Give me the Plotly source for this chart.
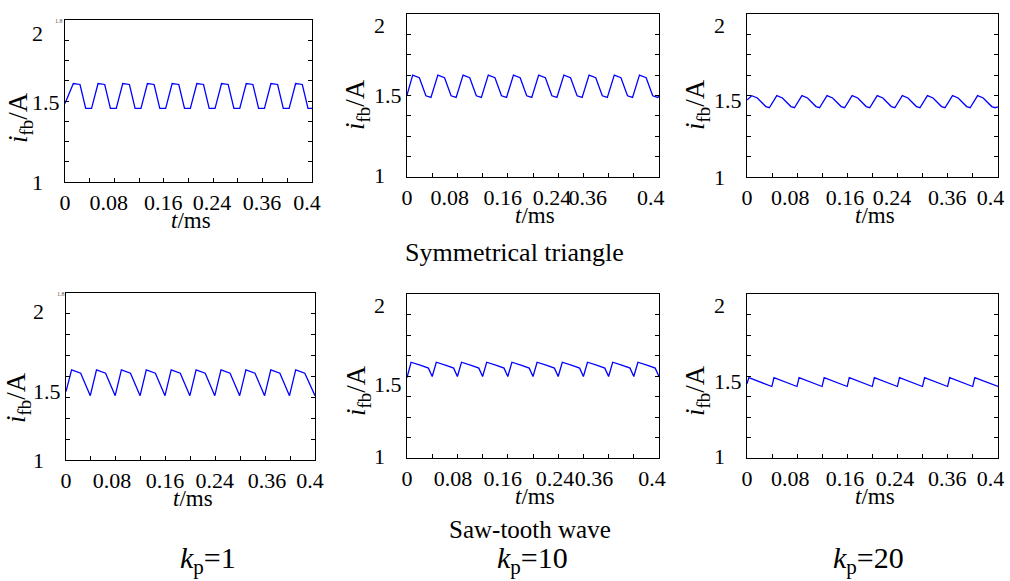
import plotly.graph_objects as go

# ---------------- data ----------------
# Symmetrical triangle, kp = 1
t_tri_1 = [0, 0.0135, 0.0243, 0.0335, 0.043, 0.0535, 0.0643, 0.0735, 0.083,
           0.0935, 0.1043, 0.1135, 0.123, 0.1335, 0.1443, 0.1535, 0.163,
           0.1735, 0.1843, 0.1935, 0.203, 0.2135, 0.2243, 0.2335, 0.243,
           0.2535, 0.2643, 0.2735, 0.283, 0.2935, 0.3043, 0.3135, 0.323,
           0.3335, 0.3443, 0.3535, 0.363, 0.3735, 0.3843, 0.3935, 0.400]
i_tri_1 = [1.485, 1.608, 1.602, 1.455, 1.455, 1.608, 1.602, 1.455, 1.455,
           1.608, 1.602, 1.455, 1.455, 1.608, 1.602, 1.455, 1.455,
           1.608, 1.602, 1.455, 1.455, 1.608, 1.602, 1.455, 1.455,
           1.608, 1.602, 1.455, 1.455, 1.608, 1.602, 1.455, 1.455,
           1.608, 1.602, 1.455, 1.455, 1.608, 1.602, 1.455, 1.455]

# Symmetrical triangle, kp = 10
t_tri_10 = [0, 0.009, 0.0196, 0.030, 0.038, 0.049, 0.0596, 0.070, 0.078,
            0.089, 0.0996, 0.110, 0.118, 0.129, 0.1396, 0.150, 0.158,
            0.169, 0.1796, 0.190, 0.198, 0.209, 0.2196, 0.230, 0.238,
            0.249, 0.2596, 0.270, 0.278, 0.289, 0.2996, 0.310, 0.318,
            0.329, 0.3396, 0.350, 0.358, 0.369, 0.3796, 0.390, 0.398, 0.400]
i_tri_10 = [1.502, 1.625, 1.609, 1.498, 1.488, 1.625, 1.609, 1.498, 1.488,
            1.625, 1.609, 1.498, 1.488, 1.625, 1.609, 1.498, 1.488,
            1.625, 1.609, 1.498, 1.488, 1.625, 1.609, 1.498, 1.488,
            1.625, 1.609, 1.498, 1.488, 1.625, 1.609, 1.498, 1.488,
            1.625, 1.609, 1.498, 1.488, 1.625, 1.609, 1.498, 1.488, 1.495]

# Symmetrical triangle, kp = 20
t_tri_20 = [0, 0.0075, 0.0165, 0.030, 0.0356, 0.0475, 0.0565, 0.070, 0.0756,
            0.0875, 0.0965, 0.110, 0.1156, 0.1275, 0.1365, 0.150, 0.1556,
            0.1675, 0.1765, 0.190, 0.1956, 0.2075, 0.2165, 0.230, 0.2356,
            0.2475, 0.2565, 0.270, 0.2756, 0.2875, 0.2965, 0.310, 0.3156,
            0.3275, 0.3365, 0.350, 0.3556, 0.3675, 0.3765, 0.390, 0.3956, 0.400]
i_tri_20 = [1.472, 1.499, 1.485, 1.432, 1.425, 1.499, 1.485, 1.432, 1.425,
            1.499, 1.485, 1.432, 1.425, 1.499, 1.485, 1.432, 1.425,
            1.499, 1.485, 1.432, 1.425, 1.499, 1.485, 1.432, 1.425,
            1.499, 1.485, 1.432, 1.425, 1.499, 1.485, 1.432, 1.425,
            1.499, 1.485, 1.432, 1.425, 1.499, 1.485, 1.432, 1.425, 1.430]

# Saw-tooth wave, kp = 1
t_saw_1 = [0, 0.009, 0.0236, 0.039, 0.049, 0.0636, 0.079, 0.089, 0.1036, 0.119,
           0.129, 0.1436, 0.159, 0.169, 0.1836, 0.199, 0.209, 0.2236, 0.239,
           0.249, 0.2636, 0.279, 0.289, 0.3036, 0.319, 0.329, 0.3436, 0.359,
           0.369, 0.3836, 0.400]
i_saw_1 = [1.41, 1.54, 1.52, 1.385, 1.54, 1.52, 1.385, 1.54, 1.52, 1.385,
           1.54, 1.52, 1.385, 1.54, 1.52, 1.385, 1.54, 1.52, 1.385,
           1.54, 1.52, 1.385, 1.54, 1.52, 1.385, 1.54, 1.52, 1.385,
           1.54, 1.52, 1.385]

# Saw-tooth wave, kp = 10
t_saw_10 = [0, 0.0065, 0.022, 0.034, 0.040, 0.0465, 0.062, 0.074, 0.080,
            0.0865, 0.102, 0.114, 0.120, 0.1265, 0.142, 0.154, 0.160,
            0.1665, 0.182, 0.194, 0.200, 0.2065, 0.222, 0.234, 0.240,
            0.2465, 0.262, 0.274, 0.280, 0.2865, 0.302, 0.314, 0.320,
            0.3265, 0.342, 0.354, 0.360, 0.3665, 0.382, 0.394, 0.400]
i_saw_10 = [1.49, 1.584, 1.565, 1.548, 1.497, 1.584, 1.565, 1.548, 1.497,
            1.584, 1.565, 1.548, 1.497, 1.584, 1.565, 1.548, 1.497,
            1.584, 1.565, 1.548, 1.497, 1.584, 1.565, 1.548, 1.497,
            1.584, 1.565, 1.548, 1.497, 1.584, 1.565, 1.548, 1.497,
            1.584, 1.565, 1.548, 1.497, 1.584, 1.565, 1.548, 1.497]

# Saw-tooth wave, kp = 20
t_saw_20 = [0, 0.003, 0.0397, 0.043, 0.0797, 0.083, 0.1197, 0.123, 0.1597,
            0.163, 0.1997, 0.203, 0.2397, 0.243, 0.2797, 0.283, 0.3197,
            0.323, 0.3597, 0.363, 0.400]
i_saw_20 = [1.452, 1.49, 1.436, 1.49, 1.436, 1.49, 1.436, 1.49, 1.436,
            1.49, 1.436, 1.49, 1.436, 1.49, 1.436, 1.49, 1.436,
            1.49, 1.436, 1.49, 1.436]

# tick labels
x_ticktext = ["0", "0.08", "0.16", "0.24", "0.36", "0.4"]
y_ticktext = ["1\u00a0\u00a0\u00a0", "1.5", "2\u00a0\u00a0\u00a0"]
x_minor_ticks = [0.04, 0.08, 0.12, 0.16, 0.20, 0.24, 0.28, 0.32, 0.36]
y_minor_ticks = [1.125, 1.25, 1.375, 1.5, 1.625, 1.75, 1.875]

row_captions = ["Symmetrical triangle", "Saw-tooth wave"]
kp_values = ["1", "10", "20"]
remnant_label = "1.8"

# ---------------- layout helpers ----------------
W, H = 1010, 581
FONT = "Liberation Serif"

# plot-frame pixel boxes (left, right, top, bottom)
boxes = [(65, 312, 20, 182), (407, 659, 14, 177), (747, 998, 14, 177),
         (66, 315, 293, 460), (407, 659, 294, 458), (747, 998, 294, 458)]
# positions of the x tick labels in each panel (as drawn)
x_label_pos = [[0, 0.071, 0.159, 0.238, 0.319, 0.392],
               [0, 0.068, 0.152, 0.230, 0.287, 0.387],
               [0, 0.069, 0.156, 0.231, 0.319, 0.388],
               [0, 0.074, 0.159, 0.239, 0.323, 0.392],
               [0, 0.073, 0.152, 0.235, 0.297, 0.389],
               [0, 0.069, 0.156, 0.236, 0.319, 0.388]]
y_label_pos = [[1.0, 1.495, 1.92], [1.01, 1.50, 1.93], [1.0, 1.47, 1.93],
               [1.0, 1.41, 1.89], [1.01, 1.45, 1.93], [1.01, 1.47, 1.93]]
ytitle_pos = [(20, 118), (357, 105), (697, 105), (18, 398), (358, 391), (697, 391)]

series = [(t_tri_1, i_tri_1), (t_tri_10, i_tri_10), (t_tri_20, i_tri_20),
          (t_saw_1, i_saw_1), (t_saw_10, i_saw_10), (t_saw_20, i_saw_20)]

fig = go.Figure()
annotations = []
layout = dict(template="none", width=W, height=H, autosize=False,
              margin=dict(l=0, r=0, t=0, b=0, autoexpand=False),
              paper_bgcolor="white", plot_bgcolor="white",
              showlegend=False, font=dict(family=FONT, color="black"))

for k, ((t, i), (l, r, tp, bt)) in enumerate(zip(series, boxes)):
    n = "" if k == 0 else str(k + 1)
    fig.add_trace(go.Scatter(x=t, y=i, mode="lines",
                             line=dict(color="#0000ff", width=1.3),
                             xaxis="x" + n, yaxis="y" + n,
                             hoverinfo="skip"))
    layout["xaxis" + n] = dict(
        domain=[l / W, r / W], range=[0, 0.4], anchor="y" + n,
        automargin=False,
        showline=True, linecolor="black", linewidth=1.4, mirror=True,
        showgrid=False, zeroline=False,
        tickmode="array", tickvals=x_label_pos[k], ticktext=x_ticktext,
        ticks="", ticklabelstandoff=0, tickangle=0,
        tickfont=dict(family=FONT, size=22, color="black"),
        minor=dict(tickmode="array", tickvals=x_minor_ticks, ticks="inside",
                   ticklen=4, tickwidth=1, tickcolor="black", showgrid=False))
    layout["yaxis" + n] = dict(
        domain=[1 - bt / H, 1 - tp / H], range=[1, 2], anchor="x" + n,
        automargin=False,
        showline=True, linecolor="black", linewidth=1.4, mirror="ticks",
        showgrid=False, zeroline=False,
        tickmode="array", tickvals=y_label_pos[k], ticktext=y_ticktext,
        ticks="", ticklabelstandoff=0, tickangle=0,
        tickfont=dict(family=FONT, size=22, color="black"),
        minor=dict(tickmode="array", tickvals=y_minor_ticks, ticks="inside",
                   ticklen=4, tickwidth=1, tickcolor="black", showgrid=False))
    # axis titles
    xt = (l + r) / 2 + 2
    yt = bt + 38
    annotations.append(dict(text="<i>t</i>/ms", x=xt / W, y=1 - yt / H,
                            xref="paper", yref="paper", showarrow=False,
                            xanchor="center", yanchor="middle",
                            font=dict(family=FONT, size=23, color="black")))
    px, py = ytitle_pos[k]
    annotations.append(dict(text="<i>i</i><sub>fb</sub>/A", x=px / W, y=1 - py / H,
                            xref="paper", yref="paper", showarrow=False,
                            textangle=-90, xanchor="center", yanchor="middle",
                            font=dict(family=FONT, size=27, color="black")))

# tiny leftover label at the top-left of the kp=1 panels
for (rx, ry) in [(59, 21), (61, 294)]:
    annotations.append(dict(text=remnant_label, x=rx / W, y=1 - ry / H,
                            xref="paper", yref="paper", showarrow=False,
                            xanchor="center", yanchor="middle",
                            font=dict(family=FONT, size=6, color="#555555")))

# row captions
for cap, (cx, cy), fs in zip(row_captions, [(514, 252), (530, 529)], [26, 25]):
    annotations.append(dict(text=cap, x=cx / W, y=1 - cy / H, xref="paper", yref="paper",
                            showarrow=False, xanchor="center", yanchor="middle",
                            font=dict(family=FONT, size=fs, color="black")))
# kp labels
for kp, cx in zip(kp_values, [208, 532, 868]):
    annotations.append(dict(text="<i>k</i><sub>p</sub>=" + kp, x=cx / W, y=1 - 560 / H,
                            xref="paper", yref="paper", showarrow=False,
                            xanchor="center", yanchor="middle",
                            font=dict(family=FONT, size=30, color="black")))

layout["annotations"] = annotations
fig.update_layout(**layout)
fig.write_html("out.html",
               config={"displayModeBar": False},
               post_script="document.body.style.margin='0';"
                           "document.body.style.padding='0';")
